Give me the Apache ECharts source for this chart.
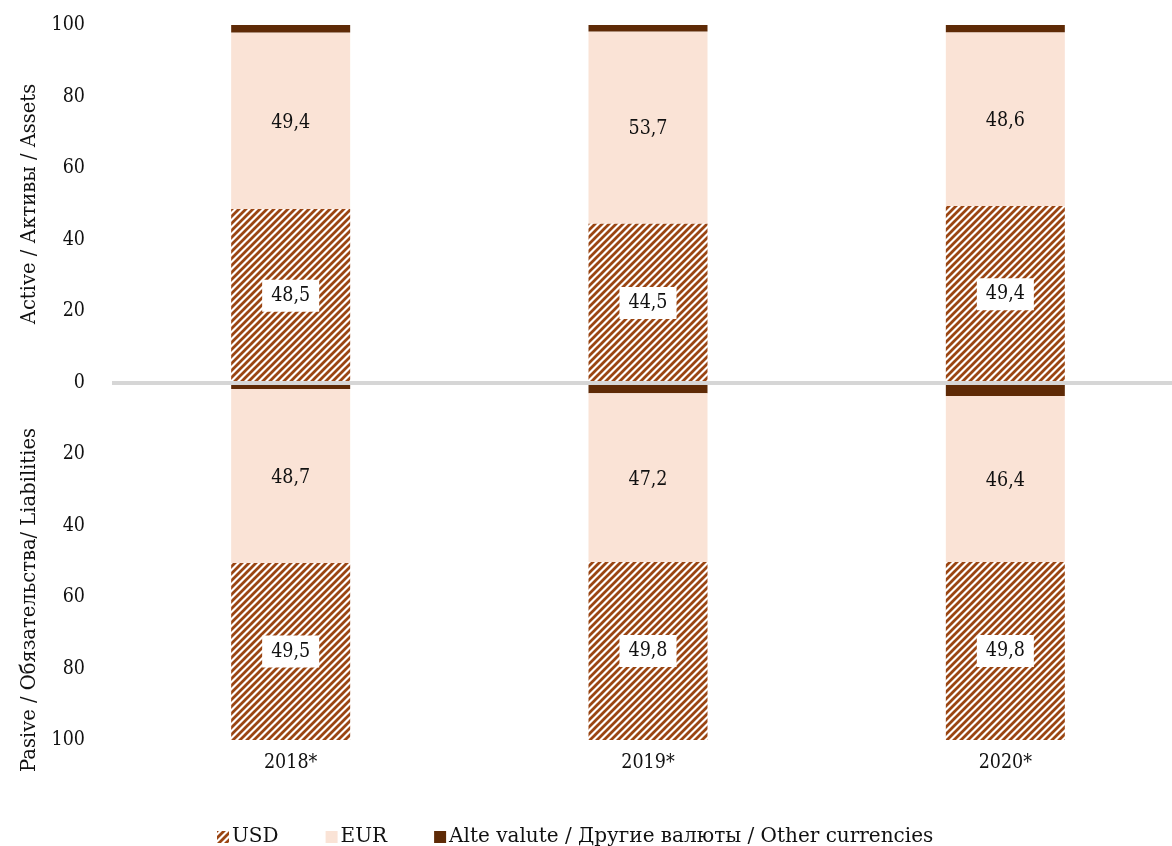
<!DOCTYPE html>
<html><head><meta charset="utf-8">
<script src="https://cdn.jsdelivr.net/npm/echarts@6/dist/echarts.min.js"></script>
<style>html,body{margin:0;padding:0;background:#fff}#c{width:1172px;height:846px}</style>
</head><body><div id="c"></div>
<script>
const categories = ['2018*', '2019*', '2020*'];
const assetsUSD = [48.5, 44.5, 49.4];
const assetsEUR = [49.4, 53.7, 48.6];
const assetsOther = [2.1, 1.8, 2.0];
const liabOther = [1.8, 3.0, 3.8];
const liabEUR = [48.7, 47.2, 46.4];
const liabUSD = [49.5, 49.8, 49.8];
const yTicks = [-100, -80, -60, -40, -20, 0, 20, 40, 60, 80, 100];
const names = ['USD', 'EUR', 'Alte valute / Другие валюты / Other currencies'];

const NUMFONT = 'DejaVu Serif Condensed';
const TXTFONT = 'DejaVu Serif';
const C_EUR = '#FAE3D6';
const C_OTHER = '#5E2A06';
const C_HATCH = '#9A4512';

function hatch() {
  const s = 7;
  const cv = document.createElement('canvas');
  cv.width = s; cv.height = s;
  const ctx = cv.getContext('2d');
  ctx.fillStyle = '#fff';
  ctx.fillRect(0, 0, s, s);
  ctx.strokeStyle = C_HATCH;
  ctx.lineWidth = 2.8;
  ctx.beginPath();
  for (let k = -1; k <= 1; k++) {
    ctx.moveTo(k * s - 1, s + 1);
    ctx.lineTo(k * s + s + 1, -1);
  }
  ctx.stroke();
  return cv;
}
const usdFill = { image: hatch(), repeat: 'repeat' };

const fmt = p => Math.abs(p.value).toFixed(1).replace('.', ',');
const neg = a => a.map(v => -v);

const usdLabel = {
  show: true, position: 'inside', formatter: fmt,
  backgroundColor: '#fff', padding: [7, 9, 5, 9],
  color: '#111', fontFamily: NUMFONT, fontSize: 19.5
};
const eurLabel = {
  show: true, position: 'inside', formatter: fmt, offset: [0, 2],
  color: '#111', fontFamily: NUMFONT, fontSize: 19.5
};
const barW = 119;

const chart = echarts.init(document.getElementById('c'), null, { renderer: 'canvas' });
chart.setOption({
  animation: false,
  grid: { left: 112, width: 1072, top: 25, bottom: 106, containLabel: false, outerBoundsMode: 'none' },
  legend: {
    data: names, left: 212, top: 822, icon: 'rect',
    itemWidth: 12, itemHeight: 12, itemGap: 47,
    textStyle: { fontFamily: TXTFONT, fontSize: 20, color: '#111', padding: [0, 0, 0, -2] }
  },
  xAxis: {
    type: 'category', data: categories,
    axisLine: { show: false }, axisTick: { show: false },
    axisLabel: { fontFamily: NUMFONT, fontSize: 19.5, color: '#111', margin: 13 }
  },
  yAxis: {
    type: 'value', min: -100, max: 100, interval: 20,
    axisLine: { show: false }, axisTick: { show: false },
    splitLine: { show: false },
    axisLabel: { fontFamily: NUMFONT, fontSize: 19.5, color: '#111', margin: 27,
      formatter: v => String(Math.abs(v)) }
  },
  graphic: [
    { type: 'text', x: 30, y: 204, rotation: Math.PI / 2, style: { text: 'Active / Активы / Assets', fontFamily: TXTFONT, fontSize: 19.5, fill: '#111', align: 'center', verticalAlign: 'middle' } },
    { type: 'text', x: 30, y: 600, rotation: Math.PI / 2, style: { text: 'Pasive / Обязательства/ Liabilities', fontFamily: TXTFONT, fontSize: 19.5, fill: '#111', align: 'center', verticalAlign: 'middle' } }
  ],
  series: [
    { name: names[0], type: 'bar', stack: 's', barWidth: barW, data: assetsUSD,
      itemStyle: { color: usdFill }, label: usdLabel,
      markLine: { silent: true, symbol: 'none', z: 10, label: { show: false },
        lineStyle: { color: '#D6D6D6', width: 4, type: 'solid' }, data: [{ yAxis: 0 }] } },
    { name: names[1], type: 'bar', stack: 's', barWidth: barW, data: assetsEUR,
      itemStyle: { color: C_EUR }, label: eurLabel },
    { name: names[2], type: 'bar', stack: 's', barWidth: barW, data: assetsOther,
      itemStyle: { color: C_OTHER } },
    { name: names[2], type: 'bar', stack: 's', barWidth: barW, data: neg(liabOther),
      itemStyle: { color: C_OTHER } },
    { name: names[1], type: 'bar', stack: 's', barWidth: barW, data: neg(liabEUR),
      itemStyle: { color: C_EUR }, label: eurLabel },
    { name: names[0], type: 'bar', stack: 's', barWidth: barW, data: neg(liabUSD),
      itemStyle: { color: usdFill }, label: usdLabel }
  ]
});
</script></body></html>
